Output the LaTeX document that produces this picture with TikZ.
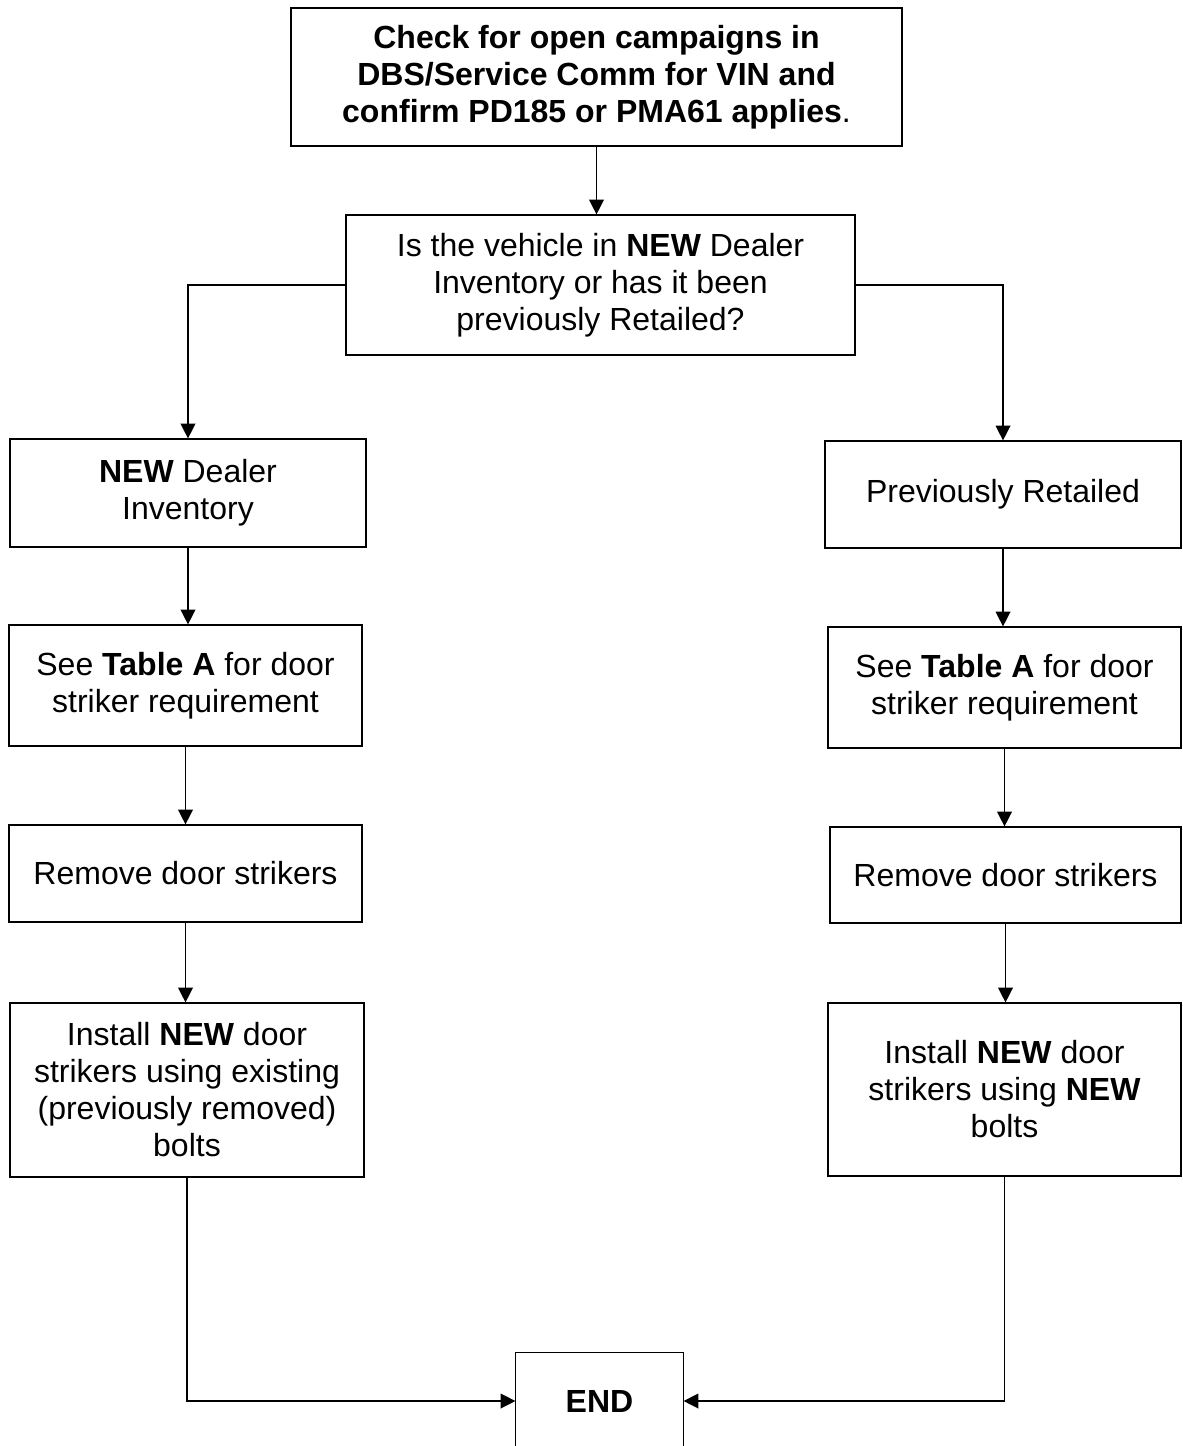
\documentclass[tikz,border=0pt]{standalone}
\usepackage{fontspec}
\setmainfont{Liberation Sans}
\usetikzlibrary{positioning, arrows.meta}

\tikzset{
  box/.style={draw, line width=0.9pt, align=center, inner sep=0pt,
    font=\fontsize{24}{27.75}\selectfont},
  flow/.style={line width=1pt, -{Triangle[length=11pt, width=11pt]}}
}

\begin{document}
\begin{tikzpicture}[x=0.75pt, y=-0.75pt]
\useasboundingbox (0,0) rectangle (1182,1446);

\node[box, minimum width=458.25pt, minimum height=103.5pt] (check) at (596.5,77)
  {\textbf{Check for open campaigns in}\\ \textbf{DBS/Service Comm for VIN and}\\ \textbf{confirm PD185 or PMA61 applies}.};

\node[box, minimum width=381.75pt, minimum height=105pt] (question) at (600.5,285)
  {Is the vehicle in \textbf{NEW} Dealer\\ Inventory or has it been\\ previously Retailed?};

% left column
\node[box, minimum width=267pt, minimum height=81pt] (newdealer) at (188,493)
  {\textbf{NEW} Dealer\\ Inventory};
\node[box, minimum width=264.75pt, minimum height=90.75pt] (tableL) at (185.5,685.5)
  {See \textbf{Table A} for door\\ striker requirement};
\node[box, minimum width=264.75pt, minimum height=72.75pt] (removeL) at (185.5,873.5)
  {Remove door strikers};
\node[box, minimum width=265.5pt, minimum height=130.5pt] (installL) at (187,1090)
  {Install \textbf{NEW} door\\ strikers using existing\\ (previously removed)\\ bolts};

% right column
\node[box, minimum width=267pt, minimum height=80.25pt] (retailed) at (1003,494.5)
  {Previously Retailed};
\node[box, minimum width=264.75pt, minimum height=90.75pt] (tableR) at (1004.5,687.5)
  {See \textbf{Table A} for door\\ striker requirement};
\node[box, minimum width=263.25pt, minimum height=72pt] (removeR) at (1005.5,875)
  {Remove door strikers};
\node[box, minimum width=264.75pt, minimum height=129.75pt] (installR) at (1004.5,1089.5)
  {Install \textbf{NEW} door\\ strikers using \textbf{NEW}\\ bolts};

% end box, cut off at the bottom
\node[box, draw=none, minimum width=125.25pt, minimum height=72pt] (finish) at (599.5,1401)
  {\textbf{END}};
\draw[line width=0.9pt] (finish.south west) -- (finish.north west) -- (finish.north east) -- (finish.south east);

\draw[flow] (check.south) -- (check.south |- question.north);
\draw[flow] (question.west) -| (newdealer.north);
\draw[flow] (question.east) -| (retailed.north);

\draw[flow] (newdealer.south) -- (newdealer.south |- tableL.north);
\draw[flow] (tableL.south) -- (tableL.south |- removeL.north);
\draw[flow] (removeL.south) -- (removeL.south |- installL.north);

\draw[flow] (retailed.south) -- (retailed.south |- tableR.north);
\draw[flow] (tableR.south) -- (tableR.south |- removeR.north);
\draw[flow] (removeR.south) -- (removeR.south |- installR.north);

\draw[flow] (installL.south) |- (finish.west);
\draw[flow] (installR.south) |- (finish.east);
\end{tikzpicture}
\end{document}
